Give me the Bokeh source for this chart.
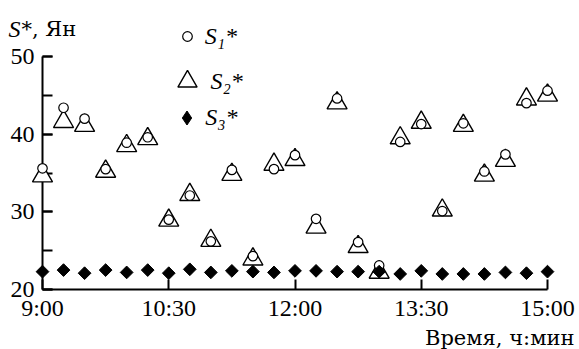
from bokeh.plotting import figure
from bokeh.models import (Range1d, FixedTicker, SingleIntervalTicker, Legend,
                          LegendItem, Title, ColumnDataSource)
from bokeh.core.properties import value
from bokeh.embed import file_html
from bokeh.resources import INLINE

# ---- data ----
times = ["9:00", "9:15", "9:30", "9:45", "10:00", "10:15", "10:30", "10:45",
         "11:00", "11:15", "11:30", "11:45", "12:00", "12:15", "12:30", "12:45",
         "13:00", "13:15", "13:30", "13:45", "14:00", "14:15", "14:30", "14:45",
         "15:00"]
s1 = [35.6, 43.4, 42.0, 35.5, 38.9, 39.6, 29.0, 32.1, 26.2, 35.4, 24.3, 35.5,
      37.3, 29.1, 44.6, 26.1, 23.1, 39.0, 41.3, 30.1, 41.4, 35.2, 37.4, 44.0, 45.6]
s2 = [34.6, 41.6, 41.1, 35.2, 38.5, 39.4, 28.9, 32.2, 26.3, 34.8, 23.9, 36.1,
      36.7, 28.0, 44.0, 25.5, 22.2, 39.5, 41.5, 30.2, 41.1, 34.7, 36.6, 44.5, 45.0]
s3 = [22.3, 22.5, 22.1, 22.5, 22.2, 22.5, 22.1, 22.6, 22.2, 22.4, 22.3, 22.2,
      22.4, 22.4, 22.3, 22.3, 22.3, 22.0, 22.4, 22.0, 22.0, 22.0, 22.2, 22.1, 22.3]
x_tick_labels = ["9:00", "10:30", "12:00", "13:30", "15:00"]
y_axis_min, y_axis_max, y_tick_step = 20, 50, 10
legend_labels = ["S\u2081*", "S\u2082*", "S\u2083*"]
y_title = ("S", "*, Ян")
x_title = "Время, ч:мин"


def to_min(t):
    h, m = t.split(":")
    return int(h) * 60 + int(m)


xs = [to_min(t) for t in times]
src = ColumnDataSource(dict(x=xs, s1=s1, s2=s2, s3=s3))

# ---- layout (pixels) ----
W, H = 579, 349
FRAME_LEFT, FRAME_BOTTOM = 42, 289
AXIS_X_END_PX = 547       # where 15:00 sits
AXIS_Y_TOP_PX = 56        # where 50 sits
x0, x1 = to_min(x_tick_labels[0]), to_min(x_tick_labels[-1])
PX_PER_MIN = (AXIS_X_END_PX - FRAME_LEFT) / (x1 - x0)
PX_PER_UNIT = (FRAME_BOTTOM - AXIS_Y_TOP_PX) / (y_axis_max - y_axis_min)
x_end = x0 + (W - FRAME_LEFT) / PX_PER_MIN
y_end = y_axis_min + FRAME_BOTTOM / PX_PER_UNIT


def px2x(px):
    return x0 + (px - FRAME_LEFT) / PX_PER_MIN


def py2y(py):
    return y_axis_min + (FRAME_BOTTOM - py) / PX_PER_UNIT


FONT = "Liberation Serif"
FS = "24px"
FONT_CYR = "DejaVu Serif"
FS_CYR = "21px"

p = figure(width=W, height=H, output_backend="svg", toolbar_location=None,
           x_range=Range1d(x0, x_end), y_range=Range1d(y_axis_min, y_end),
           min_border_left=FRAME_LEFT, min_border_right=0, min_border_top=0,
           min_border_bottom=H - FRAME_BOTTOM)
p.outline_line_color = None
p.grid.visible = False
p.background_fill_color = "white"
p.border_fill_color = "white"

# axes
xa = p.xaxis[0]
xa.ticker = FixedTicker(ticks=[to_min(t) for t in x_tick_labels])
xa.major_label_overrides = {to_min(t): t for t in x_tick_labels}
xa.bounds = (x0, x1)
ya = p.yaxis[0]
ya.ticker = SingleIntervalTicker(interval=y_tick_step, num_minor_ticks=2)
ya.bounds = (y_axis_min, y_axis_max)
for ax in (xa, ya):
    ax.axis_line_width = 2
    ax.axis_line_color = "black"
    ax.major_tick_line_width = 2
    ax.major_tick_line_color = "black"
    ax.minor_tick_line_width = 2
    ax.minor_tick_line_color = "black"
    ax.major_tick_in = 10
    ax.major_tick_out = 0
    ax.minor_tick_in = 10
    ax.minor_tick_out = 0
    ax.major_label_text_font = FONT
    ax.major_label_text_font_size = FS
    ax.major_label_text_color = "black"
xa.minor_tick_line_color = None
xa.major_label_standoff = 5
ya.major_label_standoff = 8

# glyphs
r2 = p.scatter("x", "s2", source=src, marker="triangle", size=20,
               line_color="black", line_width=1.4, fill_color="white",
               level="annotation")
r1 = p.scatter("x", "s1", source=src, marker="circle", size=9.5,
               line_color="black", line_width=1.2, fill_color="white",
               level="annotation")
r3 = p.scatter("x", "s3", source=src, marker="square", size=9, angle=0.785398,
               line_color="black", fill_color="black", level="annotation")
r3_key = p.scatter("x", "s3", source=src, marker="diamond", size=14,
                   line_color="black", fill_color="black", visible=False)


def add_legend(renderer, label, gw, gh, loc, standoff):
    lg = Legend(items=[LegendItem(label=label, renderers=[renderer])],
                location=loc, glyph_width=gw, glyph_height=gh,
                label_height=gh, label_standoff=standoff, padding=0,
                margin=0, spacing=0, border_line_color=None,
                background_fill_alpha=0, label_text_font=FONT,
                label_text_font_size=FS, label_text_font_style="italic",
                label_text_color="black")
    p.add_layout(lg)


add_legend(r1, legend_labels[0], 24, 30, (132.7, 238), 6)
add_legend(r2, legend_labels[1], 48, 48, (120.5, 184), 0)
add_legend(r3_key, legend_labels[2], 35, 35, (127.2, 154.2), 1)

# y title (top-left) drawn as text glyphs so it is not clipped
p.text(x=[px2x(8)], y=[py2y(28)], text=[y_title[0]], text_font=value(FONT),
       text_font_size=value(FS), text_font_style="italic", text_color="black",
       text_baseline="alphabetic", text_align="left", level="annotation")
p.text(x=[px2x(21)], y=[py2y(28)], text=[y_title[1]], text_font=value(FONT_CYR),
       text_font_size=value(FS_CYR), text_color="black",
       text_baseline="alphabetic", text_align="left", level="annotation")

# x title (bottom-right)
p.add_layout(Title(text=x_title, align="right", offset=5, standoff=0,
                   text_font=FONT_CYR, text_font_size=FS_CYR,
                   text_font_style="normal", text_color="black"), "below")

open("out.html", "w").write(file_html(p, INLINE))
